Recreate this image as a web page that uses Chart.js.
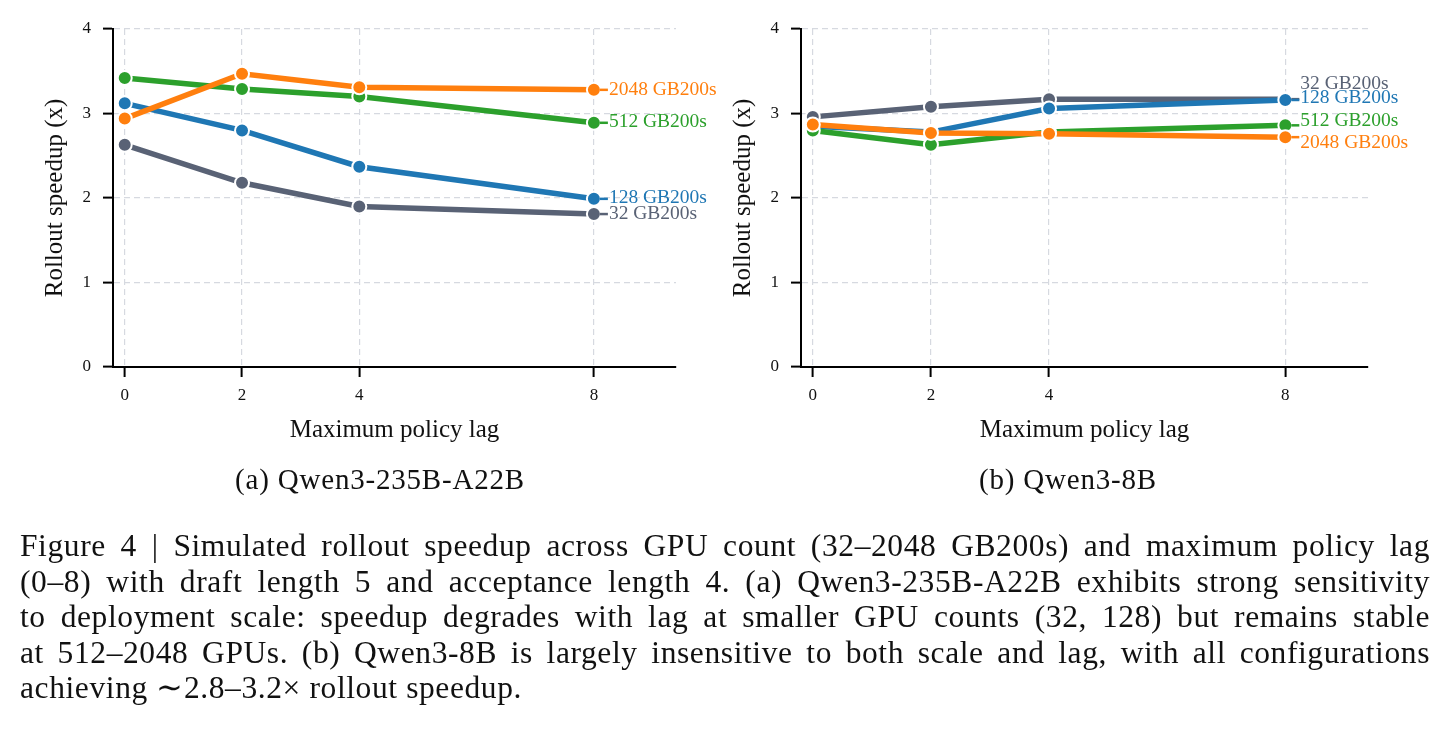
<!DOCTYPE html>
<html lang="en">
<head>
    <meta charset="UTF-8">
    <title>Figure 4 - Simulated rollout speedup</title>
    <script src="https://cdn.jsdelivr.net/npm/chart.js"></script>
    <style>
        body {
            margin: 0;
            background: #ffffff;
            width: 1448px;
            height: 744px;
            position: relative;
            overflow: hidden;
        }
        canvas {
            position: absolute;
            top: 0;
        }
        #chartA { left: 0; }
        #chartB { left: 688px; }
        #textLayer { left: 0; top: 450px; }
    </style>
</head>
<body>
    <canvas id="chartA" width="724" height="450"></canvas>
    <canvas id="chartB" width="724" height="450"></canvas>
    <canvas id="textLayer" width="1448" height="294"></canvas>

    <script>
        // x axis: maximum policy lag
        const lags = [0, 2, 4, 8];
        const yTicks = [0, 1, 2, 3, 4];
        const gpuLabels = ['32 GB200s', '128 GB200s', '512 GB200s', '2048 GB200s'];
        const gpuColors = ['#596275', '#1f77b4', '#2ca02c', '#ff7f0e'];

        // (a) Qwen3-235B-A22B
        const big32 = [2.63, 2.18, 1.90, 1.81];
        const big128 = [3.12, 2.80, 2.37, 1.99];
        const big512 = [3.42, 3.29, 3.20, 2.89];
        const big2048 = [2.94, 3.47, 3.31, 3.28];

        // (b) Qwen3-8B
        const small32 = [2.96, 3.08, 3.17, 3.17];
        const small128 = [2.85, 2.78, 3.06, 3.16];
        const small512 = [2.80, 2.63, 2.78, 2.86];
        const small2048 = [2.87, 2.77, 2.76, 2.72];

        const subCaptions = ['(a) Qwen3-235B-A22B', '(b) Qwen3-8B'];
        const captionLines = [
            'Figure 4 | Simulated rollout speedup across GPU count (32–2048 GB200s) and maximum policy lag',
            '(0–8) with draft length 5 and acceptance length 4. (a) Qwen3-235B-A22B exhibits strong sensitivity',
            'to deployment scale: speedup degrades with lag at smaller GPU counts (32, 128) but remains stable',
            'at 512–2048 GPUs. (b) Qwen3-8B is largely insensitive to both scale and lag, with all configurations',
            'achieving ∼2.8–3.2× rollout speedup.'
        ];

        const serif = '"Liberation Serif", "Times New Roman", serif';

        // draws the "NNN GB200s" text next to the last point of each line
        const endLabels = {
            id: 'endLabels',
            afterDatasetsDraw(chart, args, opts) {
                const ctx = chart.ctx;
                ctx.save();
                ctx.font = '19.5px ' + serif;
                ctx.textBaseline = 'middle';
                ctx.textAlign = 'left';
                chart.data.datasets.forEach((ds, i) => {
                    const meta = chart.getDatasetMeta(i);
                    const pt = meta.data[meta.data.length - 1];
                    ctx.strokeStyle = ds.borderColor;
                    ctx.lineWidth = 2.5;
                    ctx.beginPath();
                    ctx.moveTo(pt.x + 6, pt.y);
                    ctx.lineTo(pt.x + 14, pt.y);
                    ctx.stroke();
                    ctx.fillStyle = ds.borderColor;
                    ctx.fillText(ds.label, pt.x + 15, pt.y + (opts.offsets[i] || 0));
                });
                ctx.restore();
            }
        };

        function makeChart(id, series, padRight, offsets) {
            const datasets = series.map((vals, i) => ({
                label: gpuLabels[i],
                data: lags.map((x, j) => ({ x: x, y: vals[j] })),
                borderColor: gpuColors[i],
                backgroundColor: gpuColors[i],
                pointBackgroundColor: gpuColors[i],
                pointBorderColor: '#ffffff',
                pointBorderWidth: 2,
                pointRadius: 7,
                borderWidth: 5.5,
                order: series.length - 1 - i
            }));

            return new Chart(document.getElementById(id), {
                type: 'line',
                data: { datasets: datasets },
                plugins: [endLabels],
                options: {
                    responsive: false,
                    animation: false,
                    layout: { padding: { left: 0, top: 29, right: padRight, bottom: 0 } },
                    plugins: {
                        legend: { display: false },
                        tooltip: { enabled: false },
                        endLabels: { offsets: offsets }
                    },
                    scales: {
                        x: {
                            type: 'linear',
                            min: -0.2,
                            max: 9.4,
                            afterBuildTicks: s => { s.ticks = lags.map(v => ({ value: v })); },
                            afterFit: s => { s.height = 83; },
                            ticks: {
                                color: '#111',
                                padding: 8,
                                font: { family: serif, size: 17 }
                            },
                            grid: {
                                color: '#d6d9e0',
                                lineWidth: 1.2,
                                tickColor: '#000',
                                tickWidth: 2,
                                tickLength: 10,
                                tickBorderDash: []
                            },
                            border: { color: '#000', width: 2, dash: [6, 4] },
                            title: {
                                display: true,
                                text: 'Maximum policy lag',
                                color: '#111',
                                padding: { top: 0, bottom: 5 },
                                font: { family: serif, size: 25 }
                            }
                        },
                        y: {
                            min: 0,
                            max: 4,
                            afterBuildTicks: s => { s.ticks = yTicks.map(v => ({ value: v })); },
                            afterFit: s => { s.width = 113; },
                            ticks: {
                                color: '#111',
                                padding: 12,
                                font: { family: serif, size: 17 }
                            },
                            grid: {
                                color: '#d6d9e0',
                                lineWidth: 1.2,
                                tickColor: '#000',
                                tickWidth: 2,
                                tickLength: 10,
                                tickBorderDash: []
                            },
                            border: { color: '#000', width: 2, dash: [6, 4] },
                            title: {
                                display: true,
                                text: 'Rollout speedup (x)',
                                color: '#111',
                                padding: { top: 40, bottom: 0 },
                                font: { family: serif, size: 25 }
                            }
                        }
                    }
                }
            });
        }

        makeChart('chartA', [big32, big128, big512, big2048], 48, [0, -1, -1, 0]);
        makeChart('chartB', [small32, small128, small512, small2048], 44, [-15, -2, -4, 6]);

        // sub-captions and figure caption, drawn as canvas text (page top = 450)
        const tctx = document.getElementById('textLayer').getContext('2d');
        tctx.fillStyle = '#111';
        tctx.textBaseline = 'middle';

        tctx.font = '29px ' + serif;
        tctx.letterSpacing = '0.8px';
        tctx.textAlign = 'center';
        tctx.fillText(subCaptions[0], 380, 31);
        tctx.fillText(subCaptions[1], 1068, 31);

        tctx.font = '31.5px ' + serif;
        tctx.letterSpacing = '0.6px';
        tctx.textAlign = 'left';
        const capLeft = 20, capRight = 1430;
        captionLines.forEach((line, k) => {
            const y = 98 + k * 35.5;
            const words = line.split(' ');
            if (k === captionLines.length - 1) {
                tctx.fillText(line, capLeft, y);
                return;
            }
            const widths = words.map(w => tctx.measureText(w).width);
            const total = widths.reduce((a, b) => a + b, 0);
            const gap = (capRight - capLeft - total) / (words.length - 1);
            let x = capLeft;
            words.forEach((w, i) => {
                tctx.fillText(w, x, y);
                x += widths[i] + gap;
            });
        });
    </script>
</body>
</html>
